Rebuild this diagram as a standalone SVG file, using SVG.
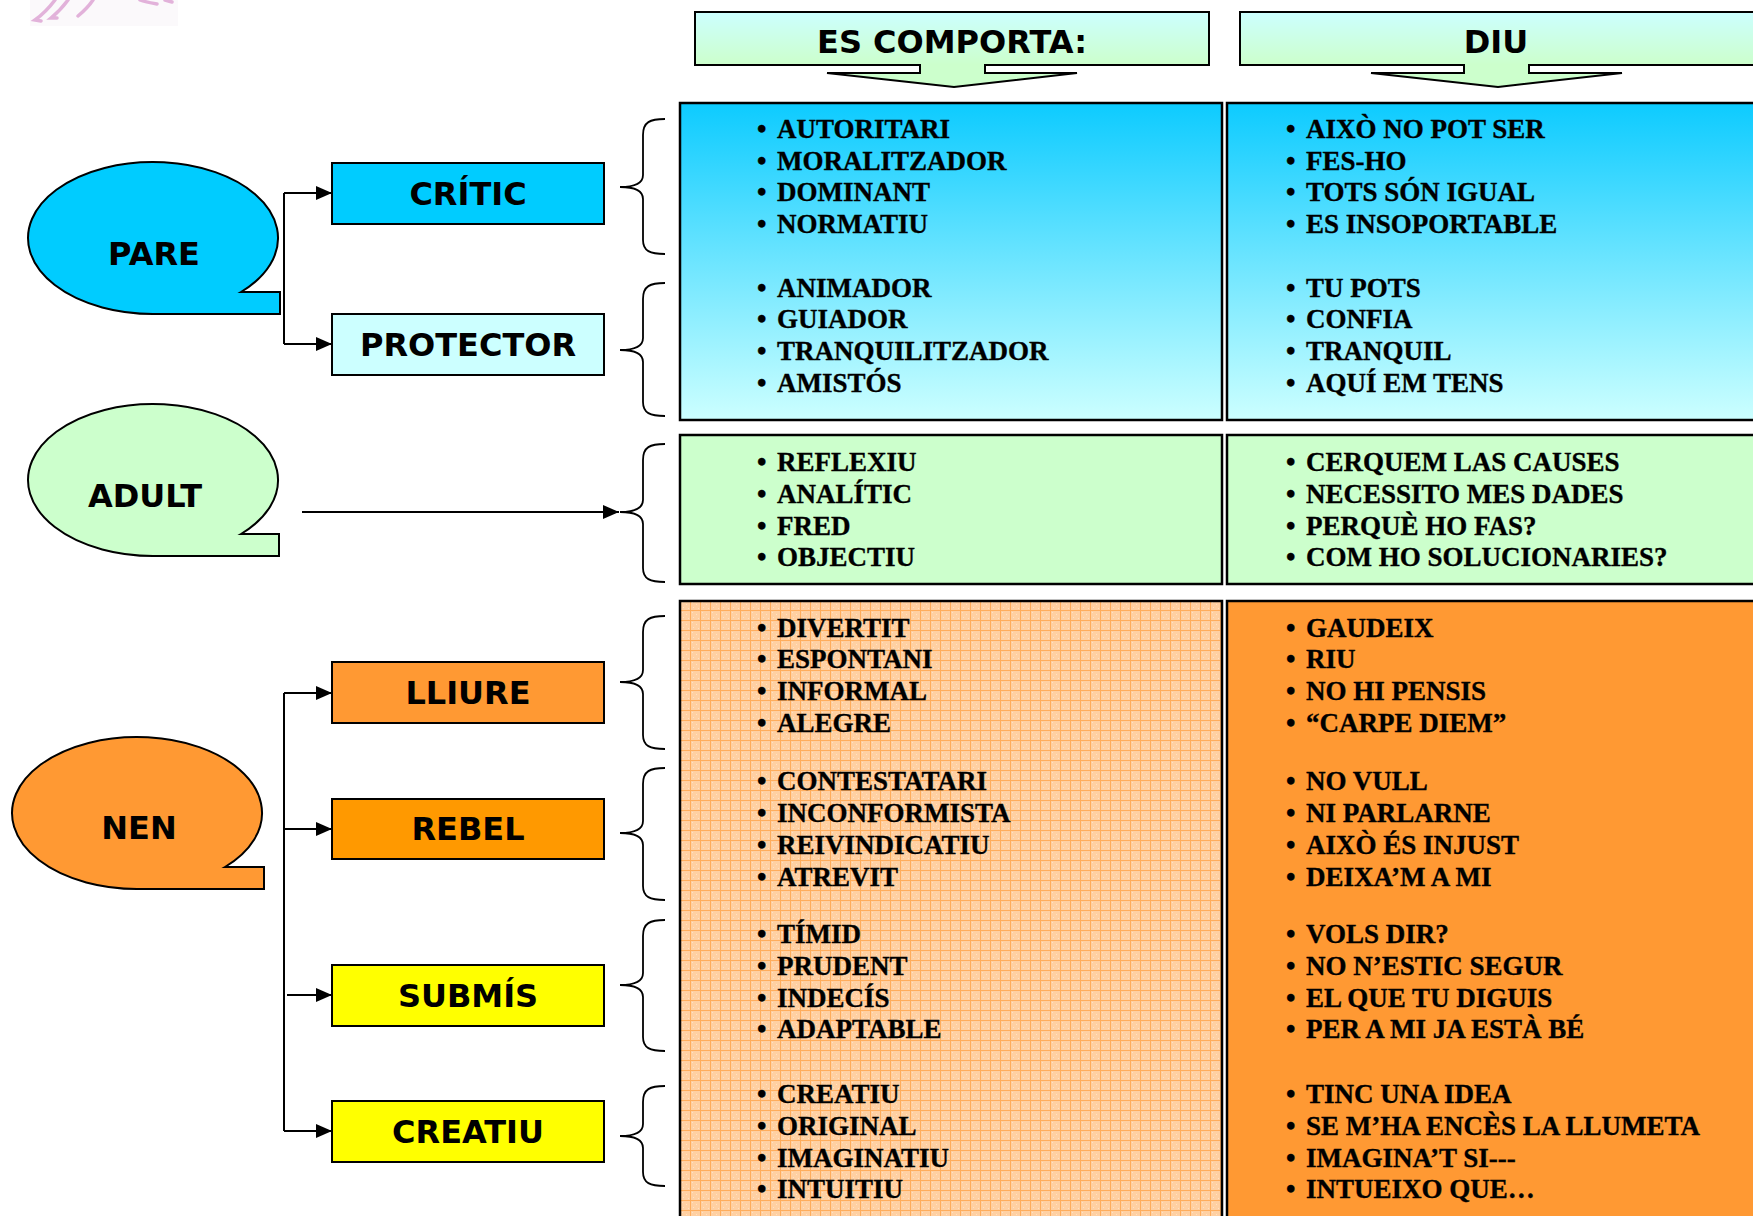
<svg xmlns="http://www.w3.org/2000/svg" width="1753" height="1216" viewBox="0 0 1753 1216">
<defs>
<style>
.hdr{font-family:"DejaVu Sans","Verdana",sans-serif;font-weight:bold;font-size:32px;fill:#000;text-anchor:middle}
.item{font-family:"Liberation Serif","Times New Roman",serif;font-weight:bold;font-size:27px;fill:#000;stroke:#000;stroke-width:0.35}
.box{stroke:#000;stroke-width:2}
.panel{stroke:#000;stroke-width:2.5}
.brace{fill:none;stroke:#000;stroke-width:1.8}
.conn{fill:none;stroke:#000;stroke-width:2}
</style>
<linearGradient id="gHead" x1="0" y1="0" x2="0" y2="1">
<stop offset="0" stop-color="#CCFFFF"/>
<stop offset="0.7" stop-color="#CCFFCC"/>
<stop offset="1" stop-color="#CCFFCC"/>
</linearGradient>
<linearGradient id="gBlue" x1="0" y1="0" x2="0" y2="1">
<stop offset="0" stop-color="#0DCBFF"/>
<stop offset="1" stop-color="#CCFFFF"/>
</linearGradient>
<pattern id="grid" width="10" height="10" patternUnits="userSpaceOnUse">
<rect width="10" height="10" fill="#FFD0A2"/>
<path d="M2,2h1v1h-1z M6,4h1v1h-1z M3,7h1v1h-1z M8,8h1v1h-1z" fill="#FFE2C4"/>
<path d="M0,0.5 H10 M0.5,0 V10" stroke="#FFAD5C" stroke-width="1"/>
</pattern>
<marker id="arr" viewBox="0 0 10 10" refX="10" refY="5" markerUnits="userSpaceOnUse" markerWidth="16" markerHeight="14" orient="auto" preserveAspectRatio="none">
<path d="M0,0 L10,5 L0,10 z" fill="#000"/>
</marker>
</defs>

<g id="decor">
<rect x="30" y="0" width="148" height="26" fill="#FBF9FB"/>
<g fill="none" stroke="#E2B2DA" stroke-width="3.5" stroke-linecap="round">
<path d="M55,0 C49,8 42,15 35,20 L41,21"/>
<path d="M68,0 C63,7 57,13 51,18 L57,18"/>
<path d="M93,0 C89,6 84,11 78,16"/>
<path d="M140,0 C145,2 151,3 157,4"/>
<path d="M165,0 L172,2"/>
</g>
</g>

<g id="header-comporta">
<path class="box" fill="url(#gHead)" d="M695,12 H1209 V65 H985 V73 H1077 L954,87 L827,73 H920 V65 H695 Z"/>
<text class="hdr" x="952" y="53">ES COMPORTA:</text>
</g>
<g id="header-diu">
<path class="box" fill="url(#gHead)" d="M1240,12 H1765 V65 H1529 V73 H1622 L1498,87 L1371,73 H1464 V65 H1240 Z"/>
<text class="hdr" x="1496" y="53">DIU</text>
</g>

<g id="panel-pare-comporta">
<rect class="panel" x="680" y="103" width="542" height="317" fill="url(#gBlue)"/>
<text class="item"><tspan x="757" y="138">•</tspan><tspan x="777" y="138">AUTORITARI</tspan></text>
<text class="item"><tspan x="757" y="170">•</tspan><tspan x="777" y="170">MORALITZADOR</tspan></text>
<text class="item"><tspan x="757" y="201">•</tspan><tspan x="777" y="201">DOMINANT</tspan></text>
<text class="item"><tspan x="757" y="233">•</tspan><tspan x="777" y="233">NORMATIU</tspan></text>
<text class="item"><tspan x="757" y="297">•</tspan><tspan x="777" y="297">ANIMADOR</tspan></text>
<text class="item"><tspan x="757" y="328">•</tspan><tspan x="777" y="328">GUIADOR</tspan></text>
<text class="item"><tspan x="757" y="360">•</tspan><tspan x="777" y="360">TRANQUILITZADOR</tspan></text>
<text class="item"><tspan x="757" y="392">•</tspan><tspan x="777" y="392">AMISTÓS</tspan></text>
</g>
<g id="panel-pare-diu">
<rect class="panel" x="1227" y="103" width="540" height="317" fill="url(#gBlue)"/>
<text class="item"><tspan x="1286" y="138">•</tspan><tspan x="1306" y="138">AIXÒ NO POT SER</tspan></text>
<text class="item"><tspan x="1286" y="170">•</tspan><tspan x="1306" y="170">FES-HO</tspan></text>
<text class="item"><tspan x="1286" y="201">•</tspan><tspan x="1306" y="201">TOTS SÓN IGUAL</tspan></text>
<text class="item"><tspan x="1286" y="233">•</tspan><tspan x="1306" y="233">ES INSOPORTABLE</tspan></text>
<text class="item"><tspan x="1286" y="297">•</tspan><tspan x="1306" y="297">TU POTS</tspan></text>
<text class="item"><tspan x="1286" y="328">•</tspan><tspan x="1306" y="328">CONFIA</tspan></text>
<text class="item"><tspan x="1286" y="360">•</tspan><tspan x="1306" y="360">TRANQUIL</tspan></text>
<text class="item"><tspan x="1286" y="392">•</tspan><tspan x="1306" y="392">AQUÍ EM TENS</tspan></text>
</g>

<g id="panel-adult-comporta">
<rect class="panel" x="680" y="435" width="542" height="149" fill="#CCFFCC"/>
<text class="item"><tspan x="757" y="471">•</tspan><tspan x="777" y="471">REFLEXIU</tspan></text>
<text class="item"><tspan x="757" y="503">•</tspan><tspan x="777" y="503">ANALÍTIC</tspan></text>
<text class="item"><tspan x="757" y="535">•</tspan><tspan x="777" y="535">FRED</tspan></text>
<text class="item"><tspan x="757" y="566">•</tspan><tspan x="777" y="566">OBJECTIU</tspan></text>
</g>
<g id="panel-adult-diu">
<rect class="panel" x="1227" y="435" width="540" height="149" fill="#CCFFCC"/>
<text class="item"><tspan x="1286" y="471">•</tspan><tspan x="1306" y="471">CERQUEM LAS CAUSES</tspan></text>
<text class="item"><tspan x="1286" y="503">•</tspan><tspan x="1306" y="503">NECESSITO MES DADES</tspan></text>
<text class="item"><tspan x="1286" y="535">•</tspan><tspan x="1306" y="535">PERQUÈ HO FAS?</tspan></text>
<text class="item"><tspan x="1286" y="566">•</tspan><tspan x="1306" y="566">COM HO SOLUCIONARIES?</tspan></text>
</g>

<g id="panel-nen-comporta">
<rect class="panel" x="680" y="601" width="542" height="640" fill="url(#grid)"/>
<text class="item"><tspan x="757" y="637">•</tspan><tspan x="777" y="637">DIVERTIT</tspan></text>
<text class="item"><tspan x="757" y="668">•</tspan><tspan x="777" y="668">ESPONTANI</tspan></text>
<text class="item"><tspan x="757" y="700">•</tspan><tspan x="777" y="700">INFORMAL</tspan></text>
<text class="item"><tspan x="757" y="732">•</tspan><tspan x="777" y="732">ALEGRE</tspan></text>
<text class="item"><tspan x="757" y="790">•</tspan><tspan x="777" y="790">CONTESTATARI</tspan></text>
<text class="item"><tspan x="757" y="822">•</tspan><tspan x="777" y="822">INCONFORMISTA</tspan></text>
<text class="item"><tspan x="757" y="854">•</tspan><tspan x="777" y="854">REIVINDICATIU</tspan></text>
<text class="item"><tspan x="757" y="886">•</tspan><tspan x="777" y="886">ATREVIT</tspan></text>
<text class="item"><tspan x="757" y="943">•</tspan><tspan x="777" y="943">TÍMID</tspan></text>
<text class="item"><tspan x="757" y="975">•</tspan><tspan x="777" y="975">PRUDENT</tspan></text>
<text class="item"><tspan x="757" y="1007">•</tspan><tspan x="777" y="1007">INDECÍS</tspan></text>
<text class="item"><tspan x="757" y="1038">•</tspan><tspan x="777" y="1038">ADAPTABLE</tspan></text>
<text class="item"><tspan x="757" y="1103">•</tspan><tspan x="777" y="1103">CREATIU</tspan></text>
<text class="item"><tspan x="757" y="1135">•</tspan><tspan x="777" y="1135">ORIGINAL</tspan></text>
<text class="item"><tspan x="757" y="1167">•</tspan><tspan x="777" y="1167">IMAGINATIU</tspan></text>
<text class="item"><tspan x="757" y="1198">•</tspan><tspan x="777" y="1198">INTUITIU</tspan></text>
</g>
<g id="panel-nen-diu">
<rect class="panel" x="1227" y="601" width="540" height="640" fill="#FF9933"/>
<text class="item"><tspan x="1286" y="637">•</tspan><tspan x="1306" y="637">GAUDEIX</tspan></text>
<text class="item"><tspan x="1286" y="668">•</tspan><tspan x="1306" y="668">RIU</tspan></text>
<text class="item"><tspan x="1286" y="700">•</tspan><tspan x="1306" y="700">NO HI PENSIS</tspan></text>
<text class="item"><tspan x="1286" y="732">•</tspan><tspan x="1306" y="732">“CARPE DIEM”</tspan></text>
<text class="item"><tspan x="1286" y="790">•</tspan><tspan x="1306" y="790">NO VULL</tspan></text>
<text class="item"><tspan x="1286" y="822">•</tspan><tspan x="1306" y="822">NI PARLARNE</tspan></text>
<text class="item"><tspan x="1286" y="854">•</tspan><tspan x="1306" y="854">AIXÒ ÉS INJUST</tspan></text>
<text class="item"><tspan x="1286" y="886">•</tspan><tspan x="1306" y="886">DEIXA’M A MI</tspan></text>
<text class="item"><tspan x="1286" y="943">•</tspan><tspan x="1306" y="943">VOLS DIR?</tspan></text>
<text class="item"><tspan x="1286" y="975">•</tspan><tspan x="1306" y="975">NO N’ESTIC SEGUR</tspan></text>
<text class="item"><tspan x="1286" y="1007">•</tspan><tspan x="1306" y="1007">EL QUE TU DIGUIS</tspan></text>
<text class="item"><tspan x="1286" y="1038">•</tspan><tspan x="1306" y="1038">PER A MI JA ESTÀ BÉ</tspan></text>
<text class="item"><tspan x="1286" y="1103">•</tspan><tspan x="1306" y="1103">TINC UNA IDEA</tspan></text>
<text class="item"><tspan x="1286" y="1135">•</tspan><tspan x="1306" y="1135">SE M’HA ENCÈS LA LLUMETA</tspan></text>
<text class="item"><tspan x="1286" y="1167">•</tspan><tspan x="1306" y="1167">IMAGINA’T SI---</tspan></text>
<text class="item"><tspan x="1286" y="1198">•</tspan><tspan x="1306" y="1198">INTUEIXO QUE…</tspan></text>
</g>

<g id="node-pare">
<path class="box" fill="#00CCFF" d="M155,314 A125,76 0 1 1 241,292 H280 V314 Z"/>
<text class="hdr" x="154" y="265">PARE</text>
</g>
<g id="node-adult">
<path class="box" fill="#CCFFCC" d="M155,556 A125,76 0 1 1 241,534 H279 V556 Z"/>
<text class="hdr" x="145" y="507">ADULT</text>
</g>
<g id="node-nen">
<path class="box" fill="#FF9933" d="M139,889 A125,76 0 1 1 225,867 H264 V889 Z"/>
<text class="hdr" x="139" y="839">NEN</text>
</g>

<g id="node-critic">
<rect class="box" x="332" y="163" width="272" height="61" fill="#00CCFF"/>
<text class="hdr" x="468" y="205">CRÍTIC</text>
</g>
<g id="node-protector">
<rect class="box" x="332" y="314" width="272" height="61" fill="#CCFFFF"/>
<text class="hdr" x="468" y="356">PROTECTOR</text>
</g>
<g id="node-lliure">
<rect class="box" x="332" y="662" width="272" height="61" fill="#FF9933"/>
<text class="hdr" x="468" y="704">LLIURE</text>
</g>
<g id="node-rebel">
<rect class="box" x="332" y="799" width="272" height="60" fill="#FF9900"/>
<text class="hdr" x="468" y="840">REBEL</text>
</g>
<g id="node-submis">
<rect class="box" x="332" y="965" width="272" height="61" fill="#FFFF00"/>
<text class="hdr" x="468" y="1007">SUBMÍS</text>
</g>
<g id="node-creatiu">
<rect class="box" x="332" y="1101" width="272" height="61" fill="#FFFF00"/>
<text class="hdr" x="468" y="1143">CREATIU</text>
</g>

<g id="braces">
<path class="brace" d="M665,119 C650,119 643,122 643,135 L643,175 C643,183 636,187 620,187 C636,187 643,191 643,199 L643,240 C643,251 650,254 665,254"/>
<path class="brace" d="M665,283 C650,283 643,286 643,299 L643,338 C643,346 636,350 620,350 C636,350 643,354 643,362 L643,402 C643,413 650,416 665,416"/>
<path class="brace" d="M665,444 C650,444 643,447 643,460 L643,500 C643,508 636,512 620,512 C636,512 643,516 643,524 L643,568 C643,579 650,582 665,582"/>
<path class="brace" d="M665,616 C650,616 643,619 643,632 L643,670 C643,678 636,682 620,682 C636,682 643,686 643,694 L643,735 C643,746 650,749 665,749"/>
<path class="brace" d="M665,768 C650,768 643,771 643,784 L643,821 C643,829 636,833 620,833 C636,833 643,837 643,845 L643,886 C643,897 650,900 665,900"/>
<path class="brace" d="M665,920 C650,920 643,923 643,936 L643,973 C643,981 636,985 620,985 C636,985 643,989 643,997 L643,1037 C643,1048 650,1051 665,1051"/>
<path class="brace" d="M665,1086 C650,1086 643,1089 643,1102 L643,1124 C643,1132 636,1136 620,1136 C636,1136 643,1140 643,1148 L643,1172 C643,1183 650,1186 665,1186"/>
</g>

<g id="connectors">
<path class="conn" d="M284,193 V344"/>
<path class="conn" d="M284,193 H332" marker-end="url(#arr)"/>
<path class="conn" d="M284,344 H332" marker-end="url(#arr)"/>
<path class="conn" d="M302,512 H619" marker-end="url(#arr)"/>
<path class="conn" d="M284,693 V1131"/>
<path class="conn" d="M284,693 H332" marker-end="url(#arr)"/>
<path class="conn" d="M284,829 H332" marker-end="url(#arr)"/>
<path class="conn" d="M287,995 H332" marker-end="url(#arr)"/>
<path class="conn" d="M284,1131 H332" marker-end="url(#arr)"/>
</g>
</svg>
